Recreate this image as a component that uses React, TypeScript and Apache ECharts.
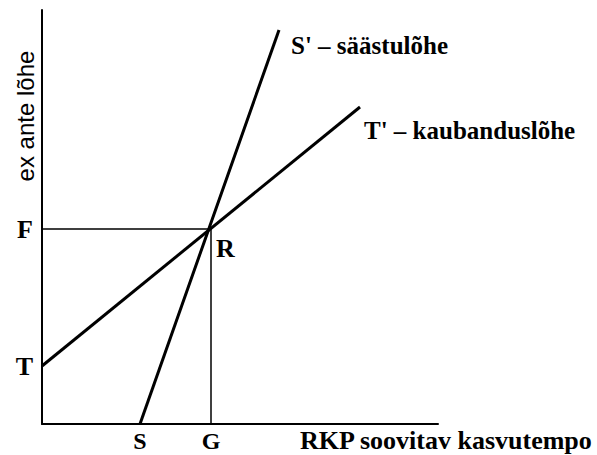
import React, { useEffect, useRef } from "react";
import * as echarts from "echarts";

// Axis extents (abstract units)
const xMax = 396;
const yMax = 414;

// Tick positions and labels
const xTickValues = [98, 169];
const xTickLabels = ["S", "G"];
const yTickValues = [58, 195];
const yTickLabels = ["T", "F"];

// Lines
const savingsLine = [
  [98, 0],
  [237, 394],
];
const tradeLine = [
  [0, 58],
  [318, 317],
];
const guideLine = [
  [0, 195],
  [169, 195],
  [169, 0],
];
const pointR = [169, 195];

const savingsName = "S' – säästulõhe";
const tradeName = "T' – kaubanduslõhe";
const xAxisName = "RKP soovitav kasvutempo";
const yAxisName = "ex ante lõhe";

const INK = "#000";
const SERIF = "'Liberation Serif', 'Times New Roman', serif";
const SANS = "'Liberation Sans', Arial, sans-serif";

export default function App() {
  const ref = useRef<HTMLDivElement>(null);

  useEffect(() => {
    if (!ref.current) return;
    const chart = echarts.init(ref.current, undefined, { renderer: "svg" });

    const labelFont = {
      fontFamily: SERIF,
      fontWeight: "bold" as const,
      fontSize: 25,
      color: INK,
    };

    const withEndLabel = (pts: number[][], text: string, dist: number, off: number[]) =>
      pts.map((p, i) =>
        i === pts.length - 1
          ? {
              value: p,
              label: {
                show: true,
                formatter: text,
                position: "right",
                distance: dist,
                offset: off,
                ...labelFont,
              },
            }
          : { value: p }
      );

    chart.setOption({
      animation: false,
      backgroundColor: "#fff",
      grid: {
        left: 42,
        top: 10,
        width: 396,
        height: 414,
        containLabel: false,
        outerBoundsMode: "none",
      },
      xAxis: {
        type: "value",
        min: 0,
        max: xMax,
        name: xAxisName,
        nameLocation: "end",
        nameGap: -138,
        nameTextStyle: {
          ...labelFont,
          fontSize: 26,
          align: "left",
          verticalAlign: "top",
          padding: [3, 0, 0, 0],
        },
        axisLine: { show: true, onZero: false, lineStyle: { color: INK, width: 2 } },
        axisTick: { show: false },
        splitLine: { show: false },
        axisLabel: {
          customValues: xTickValues,
          formatter: (v: number) => xTickLabels[xTickValues.indexOf(v)] ?? "",
          margin: 6,
          ...labelFont,
          fontSize: 24,
          lineHeight: 22,
        },
      },
      yAxis: {
        type: "value",
        min: 0,
        max: yMax,
        axisLine: { show: true, onZero: false, lineStyle: { color: INK, width: 2 } },
        axisTick: { show: false },
        splitLine: { show: false },
        axisLabel: {
          customValues: yTickValues,
          formatter: (v: number) => yTickLabels[yTickValues.indexOf(v)] ?? "",
          margin: 9,
          ...labelFont,
          fontSize: 26,
        },
      },
      graphic: [
        {
          type: "text",
          x: 25,
          y: 116,
          rotation: Math.PI / 2,
          style: {
            text: yAxisName,
            font: `normal 24px ${SANS}`,
            fill: INK,
            align: "center",
            verticalAlign: "middle",
          },
        },
      ],
      series: [
        {
          type: "line",
          data: guideLine.map((p) =>
            p[0] === pointR[0] && p[1] === pointR[1]
              ? {
                  value: p,
                  label: {
                    show: true,
                    formatter: "R",
                    position: "right",
                    distance: 4,
                    offset: [0, 19],
                    ...labelFont,
                    fontSize: 26,
                  },
                }
              : { value: p }
          ),
          symbol: "circle",
          symbolSize: 2,
          itemStyle: { color: "rgba(0,0,0,0)" },
          lineStyle: { color: INK, width: 1.5 },
          z: 2,
        },
        {
          type: "line",
          data: withEndLabel(savingsLine, savingsName, 11, [0, 15]),
          symbol: "circle",
          symbolSize: 2,
          itemStyle: { color: "rgba(0,0,0,0)" },
          lineStyle: { color: INK, width: 3 },
          z: 3,
        },
        {
          type: "line",
          data: withEndLabel(tradeLine, tradeName, 3, [0, 23]),
          symbol: "circle",
          symbolSize: 2,
          itemStyle: { color: "rgba(0,0,0,0)" },
          lineStyle: { color: INK, width: 3 },
          z: 3,
        },
      ],
    });

    return () => chart.dispose();
  }, []);

  return (
    <div
      ref={ref}
      style={{ position: "fixed", left: 0, top: 0, width: 597, height: 455, background: "#fff" }}
    />
  );
}
